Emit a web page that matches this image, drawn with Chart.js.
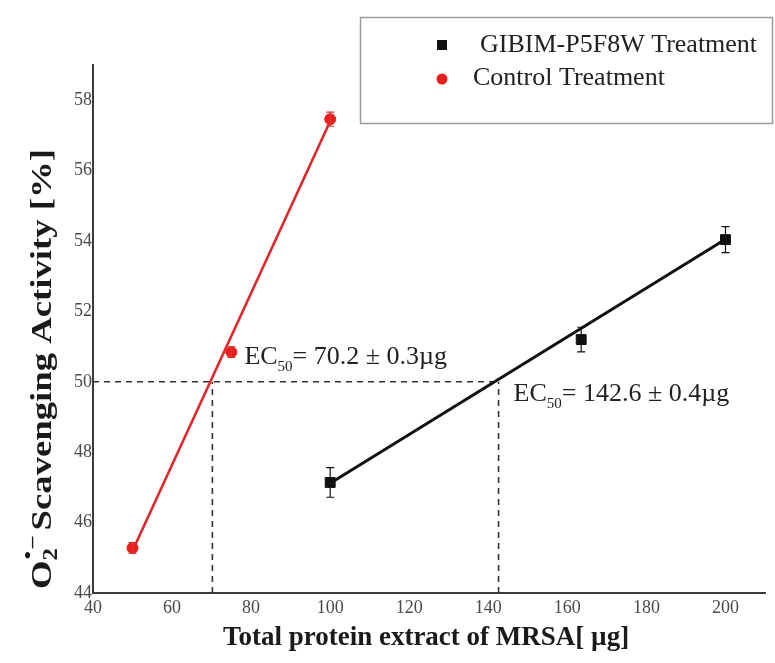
<!DOCTYPE html>
<html>
<head>
<meta charset="utf-8">
<script src="https://cdn.jsdelivr.net/npm/chart.js@4.4.1/dist/chart.umd.min.js"></script>
<style>
    html, body { margin: 0; padding: 0; background: #fff; }
    #wrap { width: 775px; height: 663px; }
</style>
</head>
<body>
<div id="wrap"><canvas id="scavChart" width="775" height="663"></canvas></div>
<script>
// protein extract amounts (µg) and scavenging activity (%)
const gibimDose = [100, 163.5, 200];
const gibimActivity = [47.14, 51.2, 54.04];
const gibimError = [0.42, 0.35, 0.37];

const controlDose = [50, 75, 100];
const controlActivity = [45.28, 50.84, 57.46];
const controlError = [0.15, 0.15, 0.2];

// regression lines (end points)
const gibimFitDose = [100, 200];
const gibimFitActivity = [47.12, 54.05];
const controlFitDose = [50, 100];
const controlFitActivity = [45.2, 57.4];

// EC50 values
const halfActivity = 50;
const gibimEC50 = 142.6;
const gibimEC50Err = 0.4;
const controlEC50 = 70.2;
const controlEC50Err = 0.3;

const xTicks = [40, 60, 80, 100, 120, 140, 160, 180, 200];
const yTicks = [44, 46, 48, 50, 52, 54, 56, 58];

const legendLabels = ['GIBIM-P5F8W Treatment', 'Control Treatment'];

const serif = "'Liberation Serif', 'Times New Roman', serif";

function toPoints(xs, ys) {
    return xs.map((x, i) => ({ x: x, y: ys[i] }));
}

function dashed(points) {
    return {
        type: 'line',
        data: points,
        borderColor: '#333',
        borderWidth: 1.6,
        borderDash: [6, 5],
        pointRadius: 0,
        fill: false,
        order: 3
    };
}

// error bars, EC50 notes, axis titles and the boxed legend
const extrasPlugin = {
    id: 'extras',
    afterDatasetsDraw(chart) {
        const ctx = chart.ctx;
        const xs = chart.scales.x;
        const ys = chart.scales.y;

        ctx.save();
        const bars = [
            [gibimDose, gibimActivity, gibimError, '#111'],
            [controlDose, controlActivity, controlError, '#e0302c']
        ];
        bars.forEach(([dx, dy, de, col]) => {
            ctx.strokeStyle = col;
            ctx.lineWidth = 1.2;
            dx.forEach((d, i) => {
                const px = xs.getPixelForValue(d);
                const top = ys.getPixelForValue(dy[i] + de[i]);
                const bot = ys.getPixelForValue(dy[i] - de[i]);
                ctx.beginPath();
                ctx.moveTo(px, top); ctx.lineTo(px, bot);
                ctx.moveTo(px - 4, top); ctx.lineTo(px + 4, top);
                ctx.moveTo(px - 4, bot); ctx.lineTo(px + 4, bot);
                ctx.stroke();
            });
        });
        ctx.restore();
    },
    afterDraw(chart) {
        const ctx = chart.ctx;
        const xs = chart.scales.x;
        const ys = chart.scales.y;

        ctx.save();
        ctx.fillStyle = '#222';
        ctx.textBaseline = 'middle';

        function ecNote(x, y, value, err) {
            ctx.textAlign = 'left';
            ctx.font = '26px ' + serif;
            ctx.fillText('EC', x, y);
            let cx = x + ctx.measureText('EC').width;
            ctx.font = '15px ' + serif;
            ctx.fillText('50', cx, y + 10);
            cx += ctx.measureText('50').width;
            ctx.font = '26px ' + serif;
            ctx.fillText('= ' + value + ' \u00b1 ' + err + '\u00b5g', cx, y);
        }
        const y50 = ys.getPixelForValue(halfActivity);
        ecNote(xs.getPixelForValue(controlEC50) + 32, y50 - 25, controlEC50, controlEC50Err);
        ecNote(xs.getPixelForValue(gibimEC50) + 15, y50 + 12, gibimEC50, gibimEC50Err);

        // x axis title
        ctx.fillStyle = '#1a1a1a';
        ctx.textAlign = 'center';
        ctx.font = 'bold 27px ' + serif;
        ctx.fillText('Total protein extract of MRSA[ \u00b5g]', 426, 638);

        // y axis title with superoxide symbol
        ctx.save();
        ctx.translate(43, 369);
        ctx.rotate(-Math.PI / 2);
        ctx.textAlign = 'left';
        const rest = ' Scavenging Activity [%]';
        ctx.font = 'bold 30px ' + serif;
        const wO = ctx.measureText('O').width;
        const wRest = ctx.measureText(rest).width;
        ctx.font = 'bold 20px ' + serif;
        const wSub = ctx.measureText('2').width;
        const total = wO + wSub + 7 + wRest;
        const stretch = 440 / total;
        ctx.scale(stretch, 1);
        let tx = -total / 2;
        ctx.font = 'bold 30px ' + serif;
        ctx.fillText('O', tx, 0);
        tx += wO;
        ctx.font = 'bold 20px ' + serif;
        ctx.fillText('2', tx, 9);
        ctx.font = 'bold 19px ' + serif;
        ctx.fillText('\u2022', tx + 1, -14);
        ctx.fillText('\u2013', tx + 10, -11);
        tx += wSub + 7;
        ctx.font = 'bold 30px ' + serif;
        ctx.fillText(rest, tx, 0);
        ctx.restore();

        // legend box
        ctx.strokeStyle = '#9a9a9a';
        ctx.lineWidth = 1.5;
        ctx.strokeRect(360.5, 17.5, 412, 106);
        ctx.fillStyle = '#111';
        ctx.fillRect(437, 40, 10, 10);
        ctx.fillStyle = '#e8201c';
        ctx.beginPath();
        ctx.arc(442, 79, 5.5, 0, Math.PI * 2);
        ctx.fill();
        ctx.fillStyle = '#222';
        ctx.textAlign = 'left';
        ctx.font = '26px ' + serif;
        ctx.fillText(legendLabels[0], 480, 45);
        ctx.fillText(legendLabels[1], 473, 78);
        ctx.restore();
    }
};

const config = {
    type: 'scatter',
    data: {
        datasets: [
            {
                label: legendLabels[0],
                data: toPoints(gibimDose, gibimActivity),
                backgroundColor: '#111',
                borderColor: '#111',
                pointStyle: 'rect',
                pointRadius: 7,
                order: 0
            },
            {
                label: legendLabels[1],
                data: toPoints(controlDose, controlActivity),
                backgroundColor: '#e8201c',
                borderColor: '#e8201c',
                pointStyle: 'circle',
                pointRadius: 5.5,
                order: 0
            },
            {
                type: 'line',
                data: toPoints(gibimFitDose, gibimFitActivity),
                borderColor: '#111',
                borderWidth: 3,
                pointRadius: 0,
                fill: false,
                order: 1
            },
            {
                type: 'line',
                data: toPoints(controlFitDose, controlFitActivity),
                borderColor: '#e3262a',
                borderWidth: 2.6,
                pointRadius: 0,
                fill: false,
                order: 1
            },
            dashed([{ x: 40, y: halfActivity }, { x: gibimEC50, y: halfActivity }]),
            dashed([{ x: controlEC50, y: 44 }, { x: controlEC50, y: halfActivity }]),
            dashed([{ x: gibimEC50, y: 44 }, { x: gibimEC50, y: halfActivity }])
        ]
    },
    options: {
        responsive: false,
        animation: false,
        events: [],
        layout: {
            padding: { top: 65, right: 10, left: 0, bottom: 0 }
        },
        plugins: {
            legend: { display: false },
            tooltip: { enabled: false }
        },
        scales: {
            x: {
                type: 'linear',
                min: 40,
                max: 210,
                afterFit: (s) => { s.height = 70; },
                afterBuildTicks: (s) => { s.ticks = xTicks.map(v => ({ value: v })); },
                grid: { display: false, drawTicks: false },
                border: { display: true, color: '#3a3a3a', width: 2 },
                ticks: {
                    padding: 4,
                    color: '#4a4a4a',
                    font: { family: serif, size: 18 }
                }
            },
            y: {
                type: 'linear',
                min: 44,
                max: 59,
                afterFit: (s) => { s.width = 93; },
                afterBuildTicks: (s) => { s.ticks = yTicks.map(v => ({ value: v })); },
                grid: { display: false, drawTicks: false },
                border: { display: true, color: '#3a3a3a', width: 2 },
                ticks: {
                    padding: 1,
                    color: '#4a4a4a',
                    font: { family: serif, size: 18 }
                }
            }
        }
    },
    plugins: [extrasPlugin]
};

new Chart(document.getElementById('scavChart'), config);
</script>
</body>
</html>
